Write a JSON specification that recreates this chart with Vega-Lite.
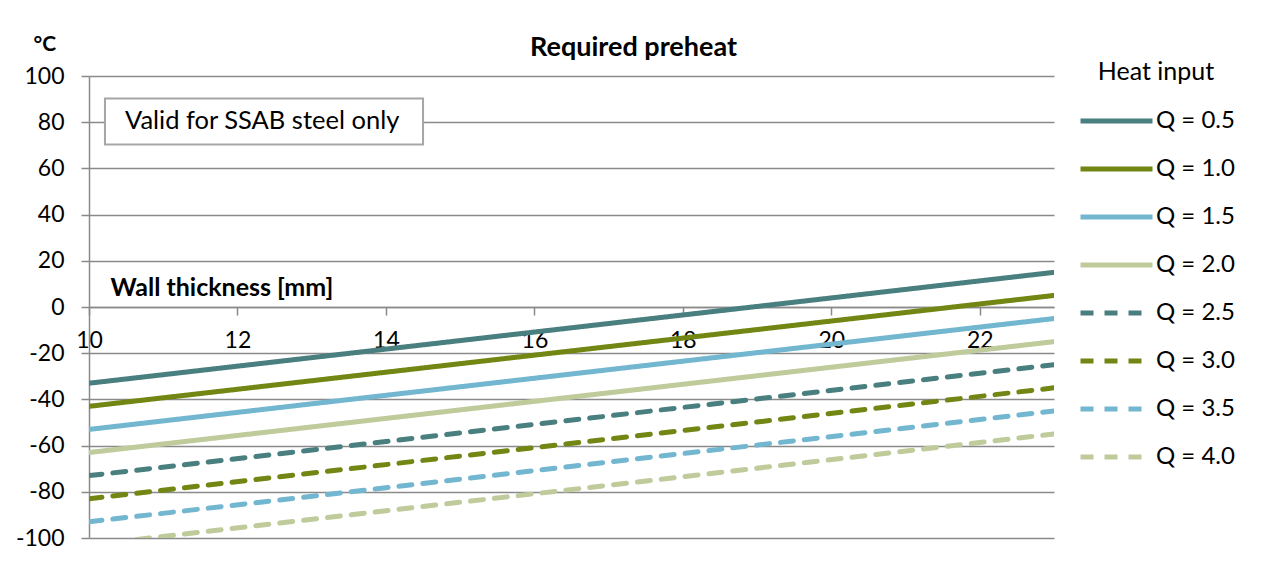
{
  "$schema": "https://vega.github.io/schema/vega-lite/v6.json",
  "width": 965,
  "height": 462,
  "autosize": {"type": "none"},
  "padding": {"left": 89, "top": 76, "right": 207, "bottom": 27},
  "background": "white",
  "title": {
    "text": "Required preheat",
    "font": "Lato",
    "fontSize": 27,
    "fontWeight": "bold",
    "color": "#000000",
    "anchor": "middle",
    "dx": 62,
    "dy": 49,
    "offset": 20
  },
  "config": {
    "font": "Lato",
    "view": {"stroke": null},
    "axis": {"labelFont": "Lato", "titleFont": "Lato", "labelColor": "#000000", "titleColor": "#000000"}
  },
  "datasets": {
    "lines": [
      {"thickness": 10, "temp": -33, "Q": "Q = 0.5"},
      {"thickness": 23, "temp": 15, "Q": "Q = 0.5"},
      {"thickness": 10, "temp": -43, "Q": "Q = 1.0"},
      {"thickness": 23, "temp": 5, "Q": "Q = 1.0"},
      {"thickness": 10, "temp": -53, "Q": "Q = 1.5"},
      {"thickness": 23, "temp": -5, "Q": "Q = 1.5"},
      {"thickness": 10, "temp": -63, "Q": "Q = 2.0"},
      {"thickness": 23, "temp": -15, "Q": "Q = 2.0"},
      {"thickness": 10, "temp": -73, "Q": "Q = 2.5"},
      {"thickness": 23, "temp": -25, "Q": "Q = 2.5"},
      {"thickness": 10, "temp": -83, "Q": "Q = 3.0"},
      {"thickness": 23, "temp": -35, "Q": "Q = 3.0"},
      {"thickness": 10, "temp": -93, "Q": "Q = 3.5"},
      {"thickness": 23, "temp": -45, "Q": "Q = 3.5"},
      {"thickness": 10, "temp": -103, "Q": "Q = 4.0"},
      {"thickness": 23, "temp": -55, "Q": "Q = 4.0"}
    ],
    "note": [
      {"x1": 10.215, "x2": 14.5, "y1": 70.4, "y2": 90.3, "tx": 10.485, "ty": 80.35, "label": "Valid for SSAB steel only"}
    ]
  },
  "layer": [
    {
      "data": {"name": "note"},
      "mark": {"type": "rect", "fill": "white", "stroke": "#a6a6a6", "strokeWidth": 2},
      "encoding": {
        "x": {"field": "x1", "type": "quantitative", "scale": {"domain": [10, 23], "nice": false}},
        "x2": {"field": "x2"},
        "y": {"field": "y1", "type": "quantitative", "scale": {"domain": [-100, 100], "nice": false}},
        "y2": {"field": "y2"}
      }
    },
    {
      "data": {"name": "note"},
      "mark": {"type": "text", "align": "left", "baseline": "middle", "font": "Lato", "fontSize": 25.5, "color": "#000000"},
      "encoding": {
        "x": {"field": "tx", "type": "quantitative"},
        "y": {"field": "ty", "type": "quantitative"},
        "text": {"field": "label"}
      }
    },
    {
      "data": {"name": "lines"},
      "mark": {"type": "line", "strokeWidth": 5, "strokeCap": "round", "clip": true},
      "encoding": {
        "x": {
          "field": "thickness",
          "type": "quantitative",
          "scale": {"domain": [10, 23], "nice": false},
          "axis": {
            "orient": "bottom",
            "offset": -231,
            "values": [10, 12, 14, 16, 18, 20, 22],
            "labelExpr": "'' + datum.value",
            "grid": false,
            "domainColor": "#8a8a8a",
            "domainWidth": 1.5,
            "tickColor": "#8a8a8a",
            "tickWidth": 1.5,
            "tickSize": 8,
            "labelFontSize": 23,
            "labelPadding": 14,
            "labelFlush": false,
            "title": "Wall thickness [mm]",
            "titleFontSize": 25,
            "titleFontWeight": "bold",
            "titleAlign": "left",
            "titleAnchor": "start",
            "titleBaseline": "middle",
            "titleX": 21,
            "titleY": -20
          }
        },
        "y": {
          "field": "temp",
          "type": "quantitative",
          "scale": {"domain": [-100, 100], "nice": false},
          "axis": {
            "values": [-100, -80, -60, -40, -20, 0, 20, 40, 60, 80, 100],
            "labelExpr": "'' + datum.value",
            "grid": true,
            "gridColor": "#8a8a8a",
            "gridWidth": 1.5,
            "domainColor": "#8a8a8a",
            "domainWidth": 1.5,
            "tickColor": "#8a8a8a",
            "tickWidth": 1.5,
            "tickSize": 8,
            "labelFontSize": 23,
            "labelPadding": 17,
            "title": "°C",
            "titleAngle": 0,
            "titleFontSize": 21,
            "titleFontWeight": "bold",
            "titleAlign": "left",
            "titleBaseline": "middle",
            "titleX": -56,
            "titleY": -32
          }
        },
        "color": {
          "field": "Q",
          "type": "nominal",
          "scale": {
            "domain": ["Q = 0.5", "Q = 1.0", "Q = 1.5", "Q = 2.0", "Q = 2.5", "Q = 3.0", "Q = 3.5", "Q = 4.0"],
            "range": ["#4a7f80", "#718613", "#72b6d0", "#bfcb9b", "#4a7f80", "#718613", "#72b6d0", "#bfcb9b"]
          },
          "legend": {
            "title": "Heat input",
            "orient": "none",
            "legendX": 989,
            "legendY": -16,
            "titleFont": "Lato",
            "titleFontSize": 25,
            "titleFontWeight": "normal",
            "titleColor": "#000000",
            "titleAnchor": "middle",
            "titlePadding": 24,
            "labelFont": "Lato",
            "labelFontSize": 24,
            "labelColor": "#000000",
            "labelOffset": 1,
            "symbolType": "stroke",
            "symbolSize": 5184,
            "symbolStrokeWidth": 5,
            "clipHeight": 24,
            "rowPadding": 24,
            "padding": 0
          }
        },
        "strokeDash": {
          "field": "Q",
          "type": "nominal",
          "scale": {
            "domain": ["Q = 0.5", "Q = 1.0", "Q = 1.5", "Q = 2.0", "Q = 2.5", "Q = 3.0", "Q = 3.5", "Q = 4.0"],
            "range": [[1, 0], [1, 0], [1, 0], [1, 0], [13, 11], [13, 11], [13, 11], [13, 11]]
          },
          "legend": {
            "title": "Heat input",
            "orient": "none",
            "legendX": 989,
            "legendY": -16,
            "titleFont": "Lato",
            "titleFontSize": 25,
            "titleFontWeight": "normal",
            "titleColor": "#000000",
            "titleAnchor": "middle",
            "titlePadding": 24,
            "labelFont": "Lato",
            "labelFontSize": 24,
            "labelColor": "#000000",
            "labelOffset": 1,
            "symbolType": "stroke",
            "symbolSize": 5184,
            "symbolStrokeWidth": 5,
            "clipHeight": 24,
            "rowPadding": 24,
            "padding": 0
          }
        }
      }
    }
  ]
}
